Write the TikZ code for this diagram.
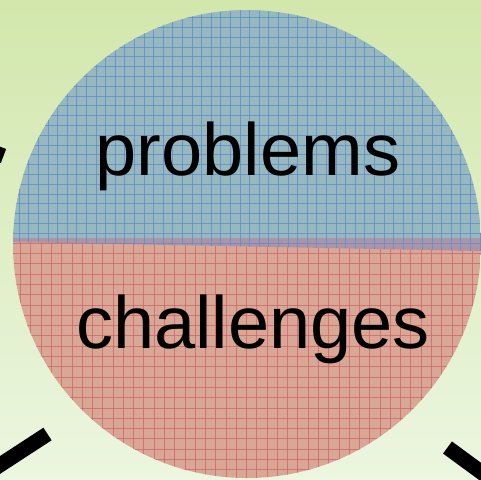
\documentclass[tikz,border=0pt]{standalone}
\usepackage{fontspec}
\setmainfont{Liberation Sans}
\definecolor{bgtop}{RGB}{210,231,172}
\definecolor{bgbottom}{RGB}{236,246,224}
\definecolor{probfill}{RGB}{150,184,190}
\definecolor{probline}{RGB}{92,140,208}
\definecolor{chalfill}{RGB}{216,167,150}
\definecolor{challine}{RGB}{208,100,104}
\definecolor{bandfill}{RGB}{170,148,168}
\tikzset{spoke/.style={line width=15pt, black}}
\tikzset{gridline/.style={line width=0.7pt, opacity=0.75}}
\tikzset{bigtext/.style={font=\fontsize{74}{80}\selectfont, anchor=base, inner sep=0pt}}

\begin{document}
\begin{tikzpicture}[x=1pt,y=-1pt]
	\shade[top color=bgtop,bottom color=bgbottom] (0,0) rectangle (481,479);
	\useasboundingbox (0,0) rectangle (481,479);
	\coordinate (C) at (247,244);
	\begin{scope}
		\clip (C) circle (234pt);
		\fill[chalfill] (0,238) rectangle (481,479);
		\foreach \i in {0,...,47}
			\draw[gridline, challine] ({10.27*\i},238) -- ({10.27*\i},479);
		\foreach \i in {0,...,24}
			\draw[gridline, challine] (0,{232.8+10.3*\i}) -- (481,{232.8+10.3*\i});
		\fill[probfill] (0,0) rectangle (481,238);
		\fill[bandfill] (0,238) -- (481,238) -- (481,251) -- (0,241.7) -- cycle;
		\begin{scope}
			\clip (0,0) -- (481,0) -- (481,251) -- (0,241.7) -- cycle;
			\foreach \i in {0,...,50}
				\draw[gridline, probline] ({9.5+9.6*\i},0) -- ({9.5+9.6*\i},260);
			\foreach \i in {0,...,26}
				\draw[gridline, probline] (0,{7.7+9.8*\i}) -- (481,{7.7+9.8*\i});
		\end{scope}
	\end{scope}
	\node[bigtext] (problems) at (248,175) {problems};
	\node[bigtext] (challenges) at (253,348) {challenges};
	\coordinate (leftend) at (3.5,156);
	\coordinate (leftout) at (-40,139.5);
	\coordinate (lowleftend) at (47.5,434);
	\coordinate (lowleftout) at (-20,478);
	\coordinate (lowrightend) at (447.5,447.5);
	\coordinate (lowrightout) at (500,486);
	\draw[spoke] (leftend) -- (leftout);
	\draw[spoke] (lowleftend) -- (lowleftout);
	\draw[spoke] (lowrightend) -- (lowrightout);
\end{tikzpicture}
\end{document}
